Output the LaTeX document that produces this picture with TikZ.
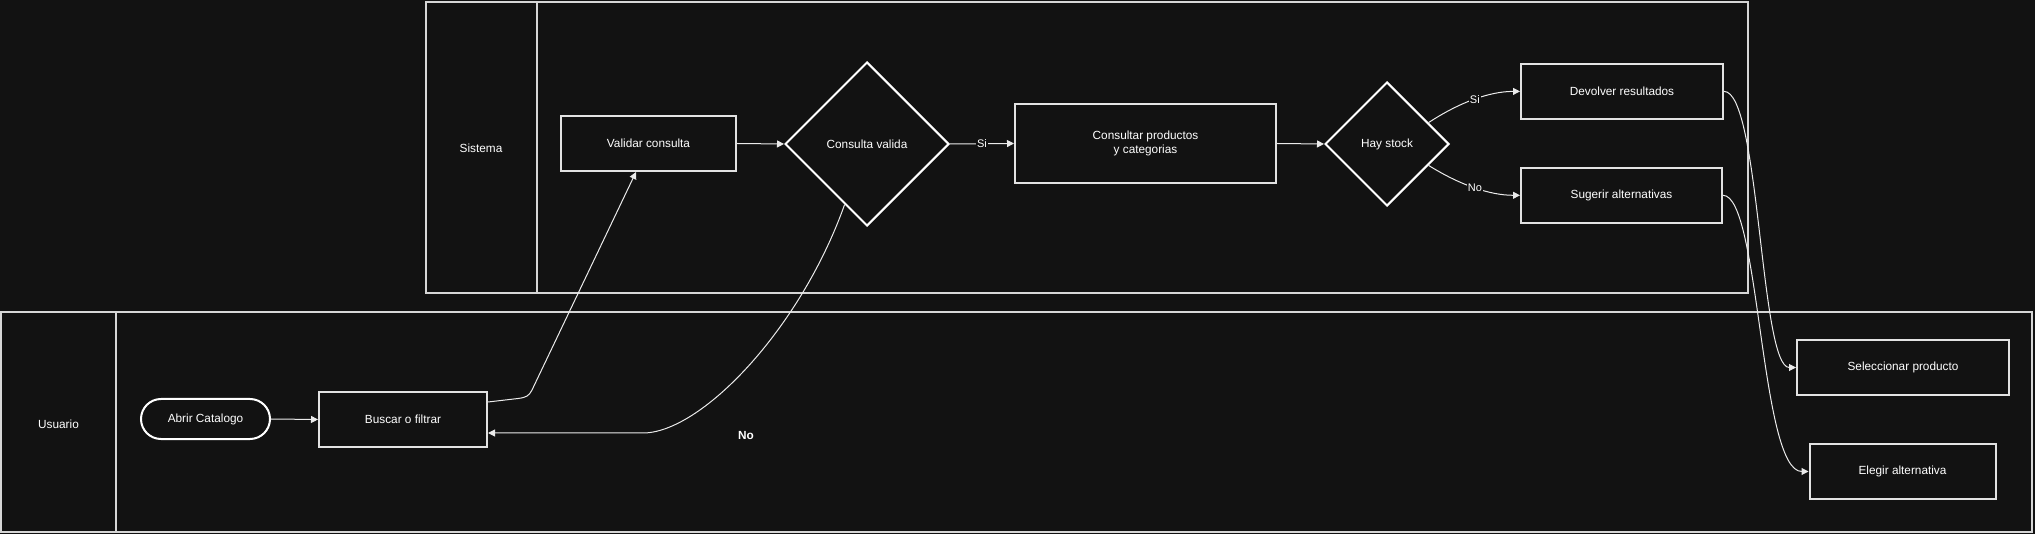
\documentclass[tikz,border=0pt]{standalone}
\usepackage{fontspec}
\setmainfont{Liberation Sans}
\usetikzlibrary{shapes.geometric,arrows.meta,calc}
\definecolor{bg}{HTML}{121212}
\definecolor{boxline}{HTML}{E2E2E2}
\definecolor{poolline}{HTML}{D6D6D6}
\begin{document}
\begin{tikzpicture}[x=1pt,y=-1pt,
  font=\fontsize{11.8}{14}\selectfont,
  every node/.style={text=white},
  pool/.style={draw=poolline,line width=2pt},
  procbox/.style={draw=boxline,line width=2pt,rectangle,inner sep=0pt,align=center},
  decis/.style={draw=white,line width=2pt,diamond,inner sep=0pt,align=center},
  startbox/.style={draw=white,line width=2pt,rectangle,rounded corners=20pt,inner sep=0pt},
  conn/.style={draw=white!92!black,line width=1pt,-{Triangle[length=7pt,width=7pt]}},
  lbl/.style={fill=bg,inner sep=1pt,font=\fontsize{11}{13}\selectfont}]
\fill[bg] (0,0) rectangle (2035,534);
\useasboundingbox (0,0) rectangle (2035,534);
% pools
\draw[pool] (426,2) rectangle (1748,293);
\draw[pool] (537,2) -- (537,293);
\draw[pool] (1,312) rectangle (2032,532);
\draw[pool] (116,312) -- (116,532);
\node (sis) at (481,148) {Sistema};
\node (usu) at (58.5,424) {Usuario};
% nodes
\node[procbox,minimum width=175pt,minimum height=55pt] (val) at (648.5,143.5) {Validar consulta};
\node[decis,minimum width=164pt,minimum height=164pt] (cv) at (867,144) {Consulta valida};
\node[procbox,minimum width=261pt,minimum height=79pt] (cons) at (1145.5,143.5) {Consultar productos\\y categorias};
\node[decis,minimum width=124pt,minimum height=124pt] (hs) at (1387,144) {Hay stock};
\node[procbox,minimum width=202pt,minimum height=55pt] (dev) at (1622,91.4) {Devolver resultados};
\node[procbox,minimum width=201pt,minimum height=55pt] (sug) at (1621.5,195.3) {Sugerir alternativas};
\node[startbox,minimum width=129pt,minimum height=40pt] (abr) at (205.5,419) {Abrir Catalogo};
\node[procbox,minimum width=168pt,minimum height=54pt] (bus) at (403,419.5) {Buscar o filtrar};
\node[procbox,minimum width=212pt,minimum height=55pt] (sel) at (1903,367.5) {Seleccionar producto};
\node[procbox,minimum width=186pt,minimum height=55pt] (ele) at (1902.5,471.5) {Elegir alternativa};
% connectors
\draw[conn] (abr.east) -- (bus.west);
\draw[conn] ([yshift=17.5pt]bus.east) -- (518,398.5) .. controls (526,397.5) and (529,396) .. (532,390) -- ([xshift=-12.5pt]val.south);
\draw[conn] (val.east) -- (cv.west);
\draw[conn] (cv.east) -- node[lbl] (si1) {Si} (cons.west);
\draw[conn] ($(cv.west)!0.73!(cv.south)$) .. controls (800,330) and (700,434) .. (642,433) -- ([yshift=-13.5pt]bus.east);
\node[font=\fontsize{11.8}{14}\selectfont\bfseries] (no1) at (746,435) {No};
\draw[conn] (cons.east) -- (hs.west);
\draw[conn] ($(hs.north)!0.66!(hs.east)$) .. controls (1460,102) and (1490,91.4) .. node[lbl,pos=0.5] (si2) {Si} (dev.west);
\draw[conn] ($(hs.south)!0.66!(hs.east)$) .. controls (1460,185) and (1490,195.3) .. node[lbl,pos=0.5] (no2) {No} (sug.west);
\draw[conn] (dev.east) .. controls (1760,91.4) and (1760,367.5) .. (sel.west);
\draw[conn] (sug.east) .. controls (1760,195.3) and (1760,471.5) .. (ele.west);
\end{tikzpicture}
\end{document}
